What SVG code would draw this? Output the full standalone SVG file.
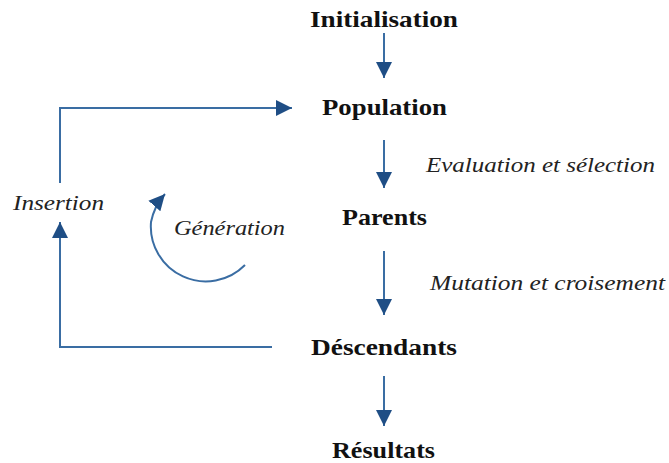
<svg xmlns="http://www.w3.org/2000/svg" width="669" height="463" viewBox="0 0 669 463">
<style>
.n{font-family:"Liberation Serif","DejaVu Serif",serif;font-weight:bold;font-size:23px;fill:#111;text-anchor:middle}
.l{font-family:"Liberation Serif","DejaVu Serif",serif;font-style:italic;font-size:21px;fill:#222}
.c{fill:none;stroke:#3a6da3;stroke-width:2}
</style>
<defs>
<marker id="ah" viewBox="0 0 10 10" refX="10" refY="5" markerWidth="8" markerHeight="8" markerUnits="userSpaceOnUse" orient="auto">
<path d="M0,0 L10,5 L0,10 Z" fill="#1f4e85"/>
</marker>
<marker id="ah2" viewBox="0 0 10 10" refX="10" refY="5" markerWidth="16" markerHeight="16" markerUnits="userSpaceOnUse" orient="auto">
<path d="M0,0 L10,5 L0,10 Z" fill="#1f4e85"/>
</marker>
</defs>
<rect width="669" height="463" fill="#fff"/>
<g id="connectors">
<line class="c" x1="384" y1="33" x2="384" y2="78" marker-end="url(#ah2)"/>
<line class="c" x1="384" y1="140" x2="384" y2="188" marker-end="url(#ah2)"/>
<line class="c" x1="384" y1="251" x2="384" y2="315" marker-end="url(#ah2)"/>
<line class="c" x1="384" y1="376" x2="384" y2="426" marker-end="url(#ah2)"/>
<polyline class="c" points="272,347 60,347 60,222" marker-end="url(#ah2)"/>
<polyline class="c" points="60,183 60,108 292,108" marker-end="url(#ah2)"/>
<path class="c" d="M245,265 A55,55 0 0 1 151,222 A60,60 0 0 1 165,194" marker-end="url(#ah2)"/>
</g>
<g id="initialisation"><text class="n" x="384" y="27" textLength="148" lengthAdjust="spacingAndGlyphs">Initialisation</text></g>
<g id="population"><text class="n" x="384.5" y="115" textLength="125" lengthAdjust="spacingAndGlyphs">Population</text></g>
<g id="parents"><text class="n" x="384.5" y="225" textLength="85" lengthAdjust="spacingAndGlyphs">Parents</text></g>
<g id="descendants"><text class="n" x="384" y="355" textLength="146" lengthAdjust="spacingAndGlyphs">Déscendants</text></g>
<g id="resultats"><text class="n" x="383.5" y="458" textLength="103" lengthAdjust="spacingAndGlyphs">Résultats</text></g>
<g id="labels">
<text class="l" x="426" y="172" textLength="229" lengthAdjust="spacingAndGlyphs">Evaluation et sélection</text>
<text class="l" x="430" y="290" textLength="235" lengthAdjust="spacingAndGlyphs">Mutation et croisement</text>
<text class="l" x="13" y="210" textLength="91" lengthAdjust="spacingAndGlyphs">Insertion</text>
<text class="l" x="174" y="235" textLength="111" lengthAdjust="spacingAndGlyphs">Génération</text>
</g>
</svg>
